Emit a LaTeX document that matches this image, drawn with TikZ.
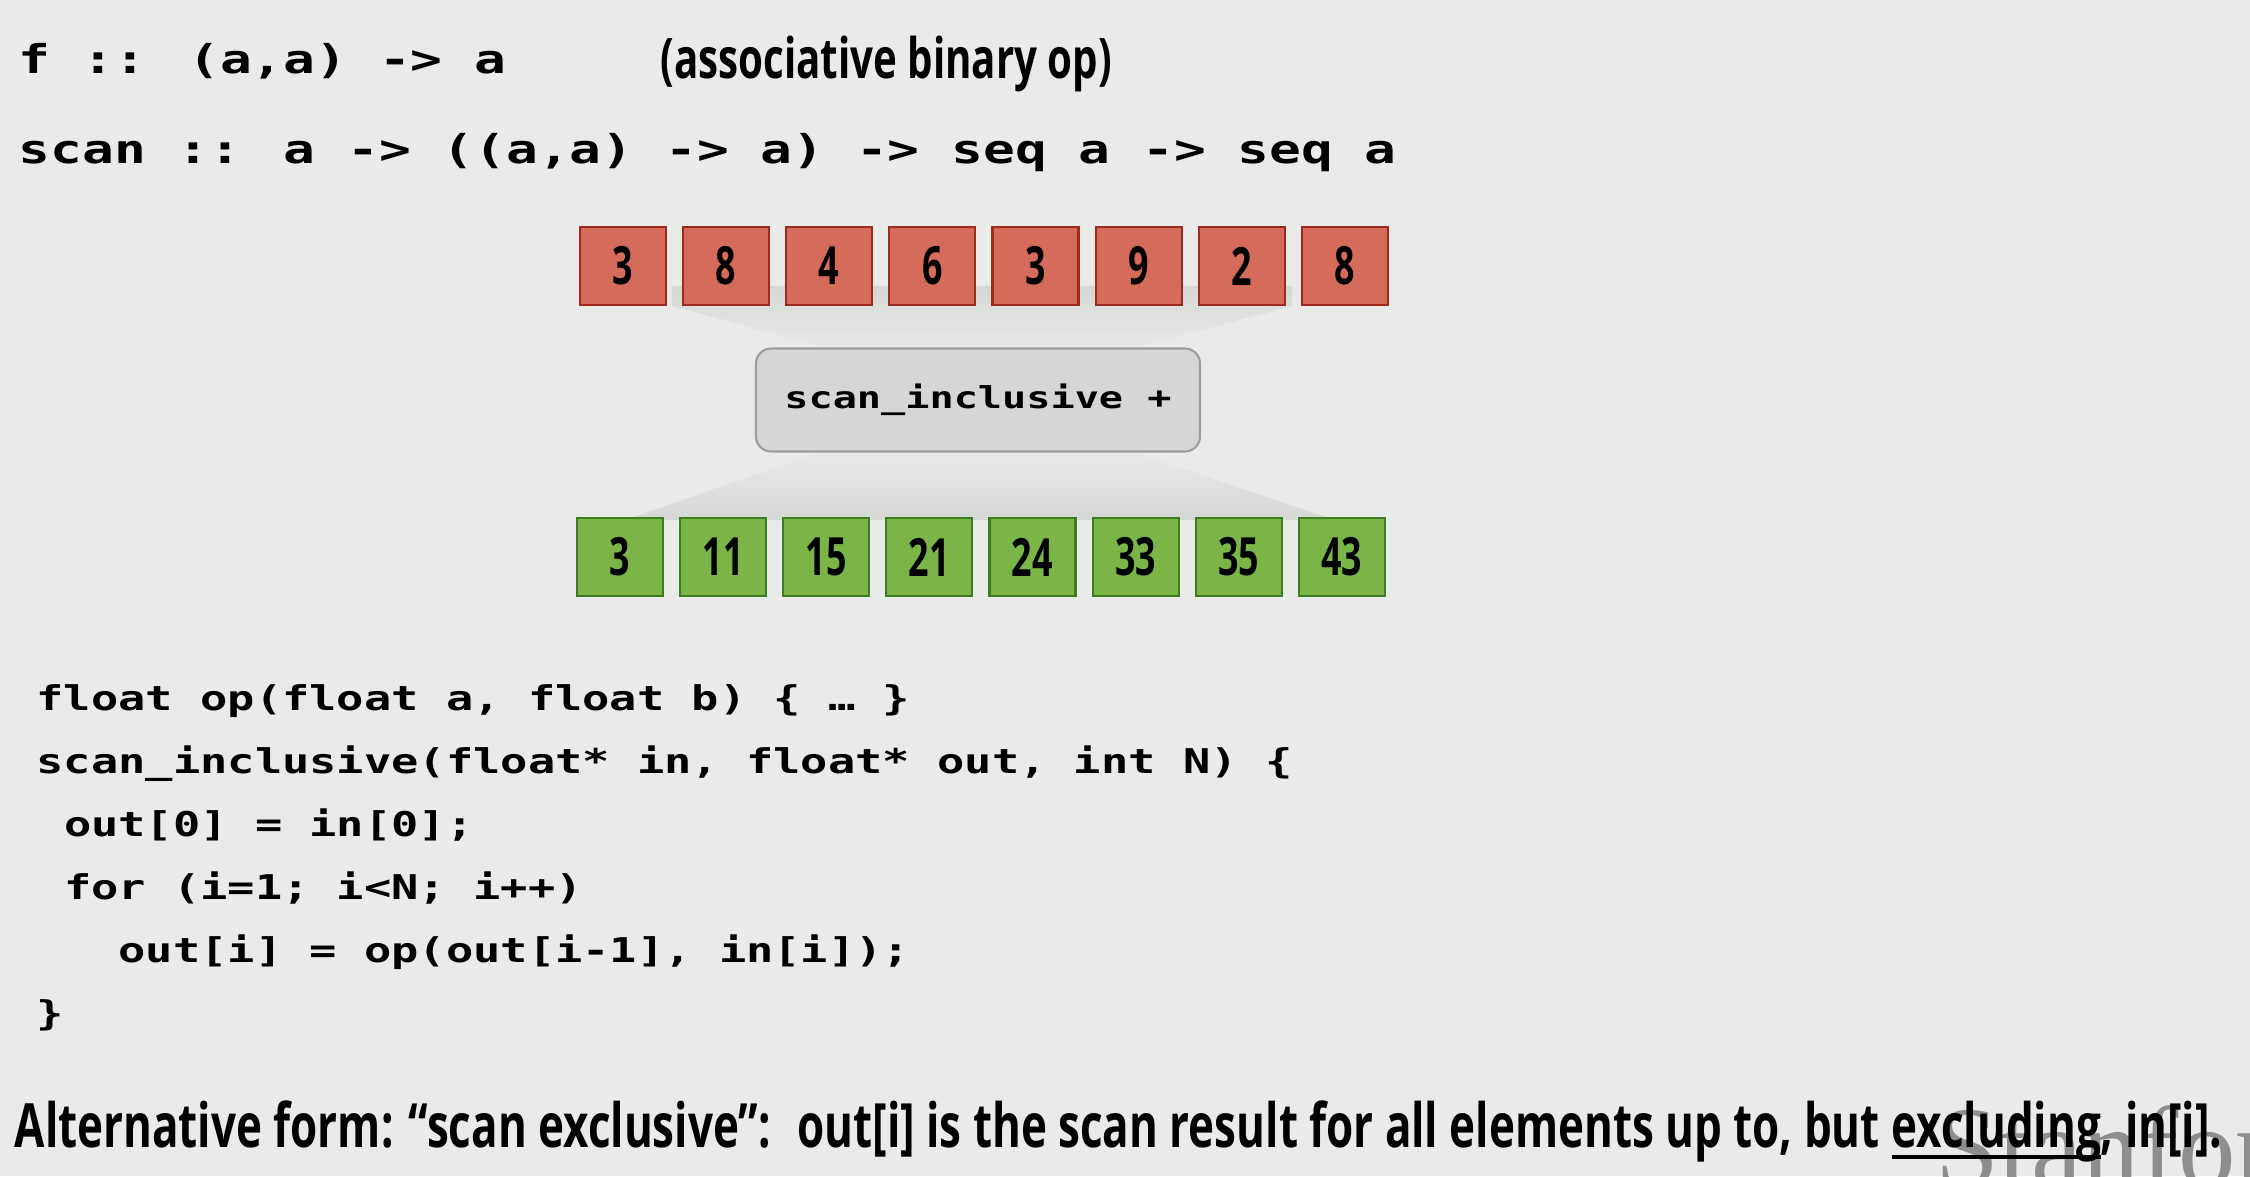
\documentclass[tikz,border=0pt]{standalone}
\usepackage{fontspec}
\setmainfont{Open Sans}
\newfontfamily\slidefont{Open Sans}[FakeStretch=0.72]
\newfontfamily\digitfont{Open Sans}[FakeStretch=0.68]
\newfontfamily\codefont{DejaVu Sans Mono}[FakeStretch=1.33]
\newfontfamily\markfont{Liberation Serif}
\usetikzlibrary{positioning}
\definecolor{slidebg}{HTML}{E9EBE8}
\definecolor{funnelgray}{HTML}{D5D7D4}
\definecolor{cellred}{HTML}{D46B5B}
\definecolor{cellredline}{HTML}{9E2A1E}
\definecolor{cellgreen}{HTML}{7BB547}
\definecolor{cellgreenline}{HTML}{3C7D22}
\definecolor{opfill}{HTML}{D5D7D5}
\definecolor{opline}{HTML}{9C9E9C}
\definecolor{markgray}{HTML}{8E8F8D}
\newcommand\ulword[1]{\setbox0=\hbox{#1}\rlap{\rule[-0.19em]{\wd0}{0.06em}}\box0}

\begin{document}
\begin{tikzpicture}[
  x=0.1mm, y=-0.1mm,
  node distance=1.5mm,
  txt/.style={inner sep=0pt, anchor=base west},
  sig/.style={txt, font=\codefont\bfseries\fontsize{11.3}{13}\selectfont},
  codeline/.style={txt, font=\codefont\bfseries\fontsize{9.7}{12}\selectfont},
  note/.style={txt, font=\slidefont\bfseries\fontsize{15.9}{17}\selectfont},
  cell/.style={line width=0.6pt, minimum width=8.6mm, minimum height=7.8mm,
               inner sep=0pt, font=\digitfont\bfseries\fontsize{15}{15}\selectfont},
  incell/.style={cell, fill=cellred, draw=cellredline},
  outcell/.style={cell, fill=cellgreen, draw=cellgreenline},
  opbox/.style={draw=opline, fill=opfill, line width=0.6pt, rounded corners=1.5mm,
                minimum width=44.4mm, minimum height=10.3mm,
                font=\codefont\bfseries\fontsize{8.6}{10}\selectfont}
]
\fill[slidebg] (0,0) rectangle (2250,1176);
\useasboundingbox (0,0) rectangle (2250,1176);

% type signatures
\node[sig] (fsig) at (18,73) {f :: (a,a) -> a};
\node[note] (assoc) at (660,78) {(associative binary op)};
\node[sig] (scansig) at (18,163) {scan :: a -> ((a,a) -> a) -> seq a -> seq a};

% funnels behind the op box
\shade[top color=funnelgray, bottom color=slidebg]
  (672,286) -- (1292,286) -- (1292,306) -- (1130,349) -- (830,349) -- (672,306) -- cycle;
\shade[top color=slidebg, bottom color=funnelgray]
  (820,452) -- (1133,452) -- (1335,520) -- (625,520) -- cycle;

% input sequence
\node[incell] (in1) at (623,266) {3};
\node[incell, right=of in1] (in2) {8};
\node[incell, right=of in2] (in3) {4};
\node[incell, right=of in3] (in4) {6};
\node[incell, right=of in4] (in5) {3};
\node[incell, right=of in5] (in6) {9};
\node[incell, right=of in6] (in7) {2};
\node[incell, right=of in7] (in8) {8};

\node[opbox] (scan) at (978,400) {scan\_inclusive +};

% output sequence
\node[outcell] (out1) at (620,557) {3};
\node[outcell, right=of out1] (out2) {11};
\node[outcell, right=of out2] (out3) {15};
\node[outcell, right=of out3] (out4) {21};
\node[outcell, right=of out4] (out5) {24};
\node[outcell, right=of out5] (out6) {33};
\node[outcell, right=of out6] (out7) {35};
\node[outcell, right=of out7] (out8) {43};

% sequential code
\node[codeline] (code1) at (36,710) {float op(float a, float b) \{ … \}};
\node[codeline] (code2) at (36,773) {scan\_inclusive(float* in, float* out, int N) \{};
\node[codeline] (code3) at (36,836) {\ out[0] = in[0];};
\node[codeline] (code4) at (36,899) {\ for (i=1; i<N; i++)};
\node[codeline] (code5) at (36,962) {\ \ \ out[i] = op(out[i-1], in[i]);};
\node[codeline] (code6) at (36,1025) {\}};

\begin{scope}
\clip (0,0) rectangle (2250,1176);
\node[txt, text=markgray, font=\markfont\fontsize{32.7}{34}\selectfont] (mark) at (1935,1186) {Stanfor};
\end{scope}

\node[note, font=\slidefont\bfseries\fontsize{17.37}{19}\selectfont] (alt) at (14,1147)
  {Alternative form: “scan exclusive”: \ out[i] is the scan result for all elements up to, but \ulword{excluding}, in[i].};
\end{tikzpicture}
\end{document}
